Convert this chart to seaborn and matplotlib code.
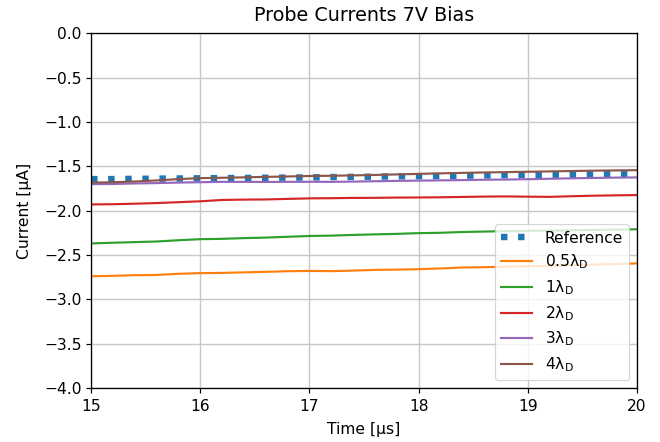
import numpy as np
import pandas as pd
import matplotlib
matplotlib.use("Agg")
import matplotlib.pyplot as plt
import seaborn as sns

# Time axis (microseconds)
time_us = [15.0, 15.2, 15.4, 15.6, 15.8, 16.0, 16.2, 16.4, 16.6, 16.8,
           17.0, 17.2, 17.4, 17.6, 17.8, 18.0, 18.2, 18.4, 18.6, 18.8,
           19.0, 19.2, 19.4, 19.6, 19.8, 20.0]

# Probe currents (microamps)
reference = [-1.645, -1.645, -1.642, -1.640, -1.638, -1.636, -1.634, -1.632, -1.630, -1.628,
             -1.626, -1.622, -1.620, -1.617, -1.614, -1.612, -1.610, -1.606, -1.604, -1.601,
             -1.598, -1.596, -1.594, -1.592, -1.590, -1.589]
ld_05 = [-2.740, -2.735, -2.728, -2.725, -2.712, -2.705, -2.702, -2.696, -2.690, -2.683,
         -2.680, -2.682, -2.676, -2.668, -2.665, -2.660, -2.652, -2.641, -2.638, -2.632,
         -2.626, -2.624, -2.615, -2.608, -2.602, -2.595]
ld_1 = [-2.370, -2.362, -2.355, -2.348, -2.334, -2.322, -2.318, -2.310, -2.304, -2.295,
        -2.286, -2.282, -2.274, -2.268, -2.262, -2.254, -2.250, -2.241, -2.236, -2.232,
        -2.228, -2.226, -2.222, -2.218, -2.214, -2.210]
ld_2 = [-1.930, -1.928, -1.922, -1.915, -1.905, -1.895, -1.880, -1.876, -1.874, -1.868,
        -1.862, -1.860, -1.857, -1.856, -1.853, -1.852, -1.850, -1.846, -1.842, -1.840,
        -1.843, -1.845, -1.838, -1.832, -1.828, -1.825]
ld_3 = [-1.702, -1.700, -1.694, -1.690, -1.684, -1.680, -1.676, -1.676, -1.677, -1.676,
        -1.675, -1.676, -1.673, -1.669, -1.665, -1.662, -1.659, -1.656, -1.652, -1.650,
        -1.646, -1.641, -1.636, -1.632, -1.628, -1.626]
ld_4 = [-1.685, -1.680, -1.672, -1.660, -1.645, -1.634, -1.630, -1.625, -1.620, -1.615,
        -1.610, -1.607, -1.603, -1.598, -1.592, -1.586, -1.580, -1.575, -1.570, -1.566,
        -1.562, -1.558, -1.554, -1.550, -1.547, -1.544]

series_labels = ["0.5λ$_\\mathregular{D}$", "1λ$_\\mathregular{D}$", "2λ$_\\mathregular{D}$",
                 "3λ$_\\mathregular{D}$", "4λ$_\\mathregular{D}$"]
series_values = [ld_05, ld_1, ld_2, ld_3, ld_4]
series_colors = ["#ff7f0e", "#2ca02c", "#d62728", "#9467bd", "#8c564b"]

x_ticks = [15, 16, 17, 18, 19, 20]
y_ticks = [0.0, -0.5, -1.0, -1.5, -2.0, -2.5, -3.0, -3.5, -4.0]

plt.rcParams["font.family"] = ["DejaVu Sans"]
plt.rcParams["font.size"] = 13

fig = plt.figure(figsize=(660 / 86, 442 / 86), dpi=86)
ax = fig.add_axes([0.138, 0.122, 0.827, 0.803])

sns.lineplot(x=time_us, y=reference, ax=ax, color="#1f77b4", linestyle=":",
             linewidth=5.4, label="Reference")
for lab, vals, col in zip(series_labels, series_values, series_colors):
    sns.lineplot(x=time_us, y=vals, ax=ax, color=col, linewidth=1.8, label=lab)

ax.set_xlim(15, 20)
ax.set_ylim(-4, 0)
ax.set_xticks(x_ticks)
ax.set_yticks(y_ticks)
ax.tick_params(labelsize=13, length=4.5, width=1)
ax.tick_params(axis="x", pad=5)
ax.grid(True, color="#c8c8c8", linewidth=1.2)
ax.set_axisbelow(True)
for sp in ax.spines.values():
    sp.set_linewidth(1.1)
ax.set_title("Probe Currents 7V Bias", fontsize=16, pad=10)
ax.set_xlabel("Time [µs]", fontsize=13, labelpad=6)
ax.set_ylabel("Current [µA]", fontsize=13, labelpad=10)
ax.legend(loc="lower right", fontsize=13, labelspacing=0.45)

fig.savefig("out.png", dpi=86)
